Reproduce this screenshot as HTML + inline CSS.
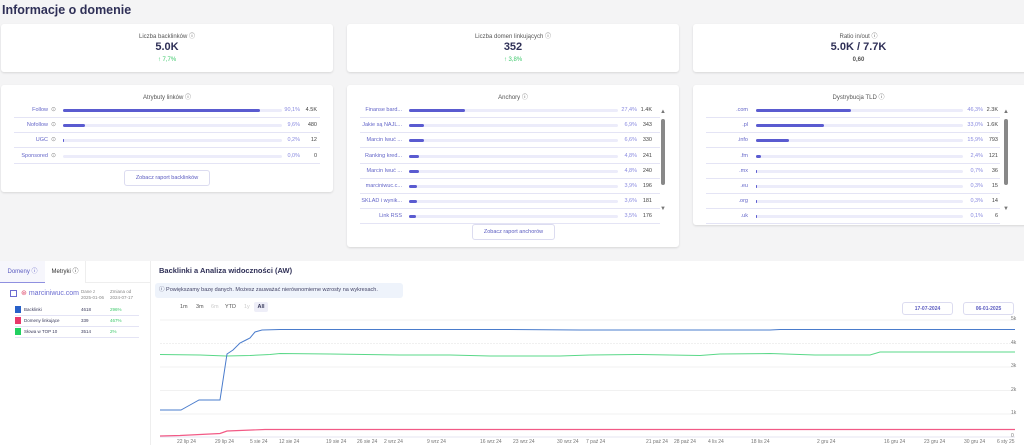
<!DOCTYPE html>
<html><head><meta charset="utf-8"><style>
*{box-sizing:border-box;margin:0;padding:0}
body{width:1024px;height:445px;background:#f4f4f5;font-family:"Liberation Sans",sans-serif;position:relative;overflow:hidden;color:#3a3b5c}
.a{position:absolute}
.card{position:absolute;background:#fff;border-radius:3px;box-shadow:0 1px 2px rgba(0,0,0,.12)}
.ct{position:absolute;left:0;right:0;text-align:center;font-size:6px;color:#555}
.big{position:absolute;left:0;right:0;text-align:center;font-size:11px;font-weight:bold;color:#2f3057}
.row{position:absolute;height:15px;border-bottom:1px solid #e4e4f5;font-size:5.5px}
.lbl{position:absolute;color:#6466c8;text-align:right;white-space:nowrap}
.trk{position:absolute;height:3px;top:6px;background:#ececfa;border-radius:2px}
.fil{position:absolute;height:3px;left:0;top:0;background:#5a5bd0;border-radius:2px}
.pct{position:absolute;color:#8a8be0;text-align:right}
.num{position:absolute;color:#444;text-align:right}
.btn{position:absolute;border:1px solid #dcdcf0;border-radius:3px;font-size:5.5px;color:#5a5bc0;text-align:center;line-height:15px;background:#fff}
.tick{position:absolute;top:439px;font-size:5px;color:#777;white-space:nowrap}
.yl{position:absolute;left:1011px;font-size:5px;color:#777}
</style></head><body>
<div class="a" style="left:2px;top:3px;font-size:12.5px;font-weight:bold;color:#2f3057">Informacje o domenie</div>

<div class="card" style="left:1px;top:24px;width:332px;height:48px">
<div class="ct" style="top:7px">Liczba backlinków ⓘ</div>
<div class="big" style="top:17px">5.0K</div>
<div class="ct" style="top:33px;color:#3cc86a">↑ 7,7%</div></div>
<div class="card" style="left:347px;top:24px;width:332px;height:48px">
<div class="ct" style="top:7px">Liczba domen linkujących ⓘ</div>
<div class="big" style="top:17px">352</div>
<div class="ct" style="top:33px;color:#3cc86a">↑ 3,8%</div></div>
<div class="card" style="left:693px;top:24px;width:340px;height:48px">
<div class="ct" style="top:7px;right:9px">Ratio in/out ⓘ</div>
<div class="big" style="top:17px;right:9px">5.0K / 7.7K</div>
<div class="ct" style="top:33px;right:9px;font-weight:bold">0,60</div></div>

<div class="card" style="left:1px;top:85px;width:332px;height:107px">
<div class="ct" style="top:7px">Atrybuty linków ⓘ</div></div>
<div class="card" style="left:347px;top:85px;width:332px;height:162px">
<div class="ct" style="top:7px">Anchory ⓘ</div></div>
<div class="card" style="left:693px;top:85px;width:340px;height:140px">
<div class="ct" style="top:7px;right:9px">Dystrybucja TLD ⓘ</div></div>

<div class="a" style="left:0;top:261px;width:1024px;height:184px;background:#fff"></div>
<div class="a" style="left:150px;top:261px;width:1px;height:184px;background:#eee"></div>
<div class="a" style="left:0;top:261px;width:45px;height:22px;background:#f6f6fc;border-bottom:1px solid #8f90e0;font-size:6px;color:#5a5bc0;line-height:22px;text-align:center">Domeny ⓘ</div>
<div class="a" style="left:45px;top:261px;width:41px;height:22px;border-right:1px solid #eee;font-size:6px;color:#333;line-height:22px;text-align:center">Metryki ⓘ</div>
<div class="a" style="left:86px;top:282px;width:64px;height:1px;background:#eee"></div>
<div class="a" style="left:10px;top:290px;width:7px;height:7px;border:1px solid #6a6bd0"></div>
<div class="a" style="left:21px;top:289px;font-size:7px;color:#6a6bd0"><span style="color:#e05070">⊛</span> marciniwuc.com</div>
<div class="a" style="left:81px;top:289px;font-size:4.5px;color:#888;line-height:6px">Dane z<br>2025-01-06</div>
<div class="a" style="left:110px;top:289px;font-size:4.5px;color:#888;line-height:6px">Zmiana od<br>2024-07-17</div>
<div class="a" style="left:15px;top:305px;width:124px;height:11px;border-bottom:1px solid #e4e4f5;font-size:4.5px;line-height:10px"><span class="a" style="left:0;top:1px;width:6px;height:7px;background:#2860c8"></span><span class="a" style="left:9px">Backlinki</span><span class="a" style="left:66px">4618</span><span class="a" style="left:95px;color:#3cc86a">296%</span></div>
<div class="a" style="left:15px;top:316px;width:124px;height:11px;border-bottom:1px solid #e4e4f5;font-size:4.5px;line-height:10px"><span class="a" style="left:0;top:1px;width:6px;height:7px;background:#e8386a"></span><span class="a" style="left:9px">Domeny linkujące</span><span class="a" style="left:66px">339</span><span class="a" style="left:95px;color:#3cc86a">467%</span></div>
<div class="a" style="left:15px;top:327px;width:124px;height:11px;border-bottom:1px solid #e4e4f5;font-size:4.5px;line-height:10px"><span class="a" style="left:0;top:1px;width:6px;height:7px;background:#22d060"></span><span class="a" style="left:9px">Słowa w TOP 10</span><span class="a" style="left:66px">3514</span><span class="a" style="left:95px;color:#3cc86a">2%</span></div>

<div class="a" style="left:159px;top:266px;font-size:7.5px;font-weight:bold;color:#2f3057">Backlinki a Analiza widoczności (AW)</div>
<div class="a" style="left:155px;top:283px;width:248px;height:15px;background:#eef3fb;border-radius:3px;font-size:5.5px;color:#446;line-height:15px;padding-left:4px">ⓘ Powiększamy bazę danych. Możesz zauważać nierównomierne wzrosty na wykresach.</div>
<div class="a" style="left:180px;top:304px;font-size:5.5px;color:#555">1m</div>
<div class="a" style="left:196px;top:304px;font-size:5.5px;color:#555">3m</div>
<div class="a" style="left:211px;top:304px;font-size:5.5px;color:#ccc">6m</div>
<div class="a" style="left:225px;top:304px;font-size:5.5px;color:#555">YTD</div>
<div class="a" style="left:244px;top:304px;font-size:5.5px;color:#ccc">1y</div>
<div class="a" style="left:254px;top:302px;width:14px;height:10px;background:#eeeef8;border-radius:2px;font-size:5.5px;font-weight:bold;text-align:center;line-height:10px">All</div>
<div class="btn" style="left:902px;top:302px;width:51px;height:13px;line-height:12px;font-weight:bold;font-size:5px">17-07-2024</div>
<div class="btn" style="left:963px;top:302px;width:51px;height:13px;line-height:12px;font-weight:bold;font-size:5px">06-01-2025</div>

<svg class="a" style="left:0;top:0" width="1024" height="445">
<g stroke="#ececec" stroke-width="0.7">
<line x1="160" y1="320" x2="1015" y2="320"/><line x1="160" y1="343.5" x2="1015" y2="343.5" stroke-dasharray="2 1"/>
<line x1="160" y1="367" x2="1015" y2="367"/><line x1="160" y1="390.5" x2="1015" y2="390.5"/>
<line x1="160" y1="414" x2="1015" y2="414"/><line x1="160" y1="437" x2="1015" y2="437" stroke="#dde"/></g>
<polyline fill="none" stroke="#5ad888" stroke-width="1" points="160,354.5 200,355 226,356 250,355.5 270,354.5 280,353.5 330,354 400,355 450,355 490,356 520,356 560,356 590,355 640,354.5 700,355.5 720,354 770,353.5 815,355 870,355 880,352 950,352 1015,352"/>
<polyline fill="none" stroke="#4a7ccc" stroke-width="1" points="160,410 181,410 190,405 199,400 220,400 227,354 233,350 240,343 246,340 250,338 255,332 262,330 280,329.5 510,329.5 580,330 700,330 770,330 780,329.5 1015,329.5"/>
<polyline fill="none" stroke="#f25a86" stroke-width="1.2" points="160,436 180,435.5 200,434.5 220,433.5 227,431 265,429.5 1015,429.5"/>
</svg>
<div class="yl" style="top:316px">5k</div><div class="yl" style="top:340px">4k</div><div class="yl" style="top:363px">3k</div><div class="yl" style="top:387px">2k</div><div class="yl" style="top:410px">1k</div><div class="yl" style="top:433px">0</div>
<div class="tick" style="left:177px">22 lip 24</div><div class="tick" style="left:215px">29 lip 24</div><div class="tick" style="left:250px">5 sie 24</div><div class="tick" style="left:279px">12 sie 24</div><div class="tick" style="left:326px">19 sie 24</div><div class="tick" style="left:357px">26 sie 24</div><div class="tick" style="left:384px">2 wrz 24</div><div class="tick" style="left:427px">9 wrz 24</div><div class="tick" style="left:480px">16 wrz 24</div><div class="tick" style="left:513px">23 wrz 24</div><div class="tick" style="left:557px">30 wrz 24</div><div class="tick" style="left:586px">7 paź 24</div><div class="tick" style="left:646px">21 paź 24</div><div class="tick" style="left:674px">28 paź 24</div><div class="tick" style="left:708px">4 lis 24</div><div class="tick" style="left:751px">18 lis 24</div><div class="tick" style="left:817px">2 gru 24</div><div class="tick" style="left:884px">16 gru 24</div><div class="tick" style="left:924px">23 gru 24</div><div class="tick" style="left:964px">30 gru 24</div><div class="tick" style="left:997px">6 sty 25</div>

<script>
function rows(x0,y0,w,lblW,trkX,trkW,pctX,numX,data){let h='';data.forEach((d,i)=>{h+=`<div class="row" style="left:${x0}px;top:${y0+i*15.2}px;width:${w}px"><div class="lbl" style="left:0;width:${lblW}px;top:4px">${d[0]}</div>${d[4]?'<div class="lbl" style="left:'+(lblW+3)+'px;top:3px;color:#888;font-size:6px">⊙</div>':''}<div class="trk" style="left:${trkX}px;width:${trkW}px"><div class="fil" style="width:${d[1]}%"></div></div><div class="pct" style="left:${pctX}px;width:20px;top:4px">${d[2]}</div><div class="num" style="left:${numX}px;width:16px;top:4px">${d[3]}</div></div>`});return h;}
document.body.insertAdjacentHTML('beforeend',
rows(14,103,306,34,49,219,266,287,[["Follow",90,"90,1%","4.5K",1],["Nofollow",10,"9,6%","480",1],["UGC",0.5,"0,2%","12",1],["Sponsored",0,"0,0%","0",1]])+
rows(360,103,300,42,49,209,257,276,[["Finanse bard...",27,"27,4%","1.4K"],["Jakie są NAJL...",7,"6,9%","343"],["Marcin Iwuć ...",7,"6,6%","330"],["Ranking kred...",5,"4,8%","241"],["Marcin Iwuć ...",5,"4,8%","240"],["marciniwuc.c...",4,"3,9%","196"],["SKLAD i wynik...",4,"3,6%","181"],["Link RSS",3.5,"3,5%","176"]])+
rows(706,103,294,42,50,207,257,276,[[".com",46,"46,3%","2.3K"],[".pl",33,"33,0%","1.6K"],[".info",16,"15,9%","793"],[".fm",2.4,"2,4%","121"],[".mx",0.7,"0,7%","36"],[".eu",0.3,"0,3%","15"],[".org",0.3,"0,3%","14"],[".uk",0.1,"0,1%","6"]])+
'<div class="btn" style="left:124px;top:170px;width:86px;height:16px">Zobacz raport backlinków</div>'+
'<div class="btn" style="left:472px;top:224px;width:83px;height:16px">Zobacz raport anchorów</div>'+
'<div class="a" style="left:660px;top:110px;width:6px;height:105px"><div class="a" style="left:0;top:-1px;font-size:6px;color:#777">▲</div><div class="a" style="left:1px;top:9px;width:4px;height:66px;background:#888;border-radius:2px"></div><div class="a" style="left:0;top:96px;font-size:6px;color:#777">▼</div></div>'+
'<div class="a" style="left:1003px;top:110px;width:6px;height:105px"><div class="a" style="left:0;top:-1px;font-size:6px;color:#777">▲</div><div class="a" style="left:1px;top:9px;width:4px;height:66px;background:#888;border-radius:2px"></div><div class="a" style="left:0;top:96px;font-size:6px;color:#777">▼</div></div>');
</script>
</body></html>
